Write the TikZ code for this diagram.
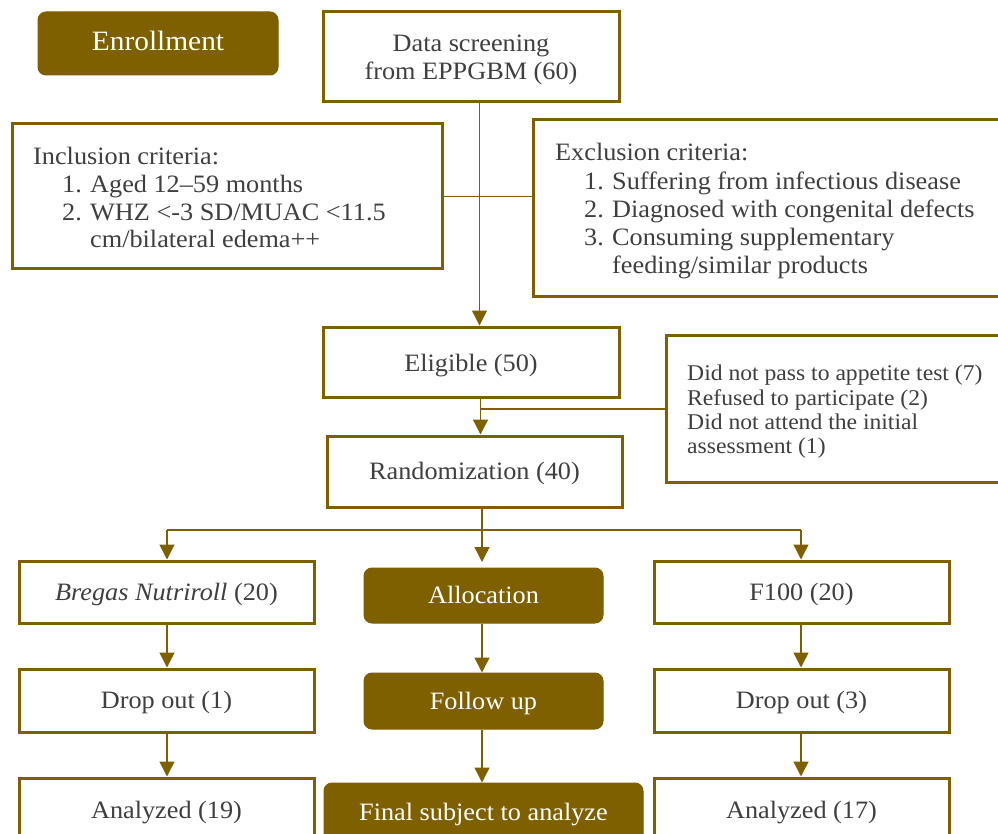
\documentclass[tikz,border=0pt]{standalone}
\usepackage{fontspec}
\setmainfont{Liberation Serif}[FakeStretch=1.05]
\usetikzlibrary{arrows.meta}
\definecolor{brn}{HTML}{7F6000}
\definecolor{txt}{HTML}{3F3F3F}
\begin{document}
\begin{tikzpicture}[x=1pt,y=-1pt,
 box/.style={draw=brn, line width=3pt, fill=white, inner sep=0pt, text=txt, font=\fontsize{25}{28}\selectfont, align=center, text height=22pt, text depth=5.5pt},
 dark/.style={fill=brn, draw=brn, line width=1pt, rounded corners=8pt, inner sep=0pt, text=white, font=\fontsize{25}{28}\selectfont, text height=22pt, text depth=5.5pt},
 conn/.style={draw=brn, line width=1.4pt},
 arr/.style={conn, -{Triangle[width=15pt,length=15pt]}},
 ln/.style={anchor=base west, inner sep=0pt, text=txt, font=\fontsize{25}{28}\selectfont},
 sln/.style={ln, font=\fontsize{22.5}{25}\selectfont},
]
\useasboundingbox (0,0) rectangle (998,834);
\clip (0,0) rectangle (998,834);
\fill[white] (0,0) rectangle (998,834);

% boxes
\node[dark, minimum width=240pt, minimum height=63pt, font=\fontsize{28}{32}\selectfont, text height=20pt, text depth=6pt] (enroll) at (158,43.5) {Enrollment};
\node[box, minimum width=296pt, minimum height=90pt, text height=, text depth=] (screen) at (471,57) {};
\node[anchor=center, inner sep=0pt, text=txt, font=\fontsize{25}{28}\selectfont, align=center] (screentxt) at (471,60) {Data screening\\from EPPGBM (60)};
\node[box, minimum width=430pt, minimum height=145pt, text height=, text depth=] (incl) at (227,196.5) {};
\node[box, minimum width=477pt, minimum height=176pt, text height=, text depth=] (excl) at (771.5,208) {};
\node[box, minimum width=296pt, minimum height=70pt, text height=25pt] (elig) at (471,362) {Eligible (50)};
\node[box, minimum width=295pt, minimum height=71pt] (rand) at (474.5,471.5) {Randomization (40)};
\node[box, minimum width=344pt, minimum height=147pt, text height=, text depth=] (drop) at (838,408.5) {};
\node[box, minimum width=295pt, minimum height=62pt] (bregas) at (166.5,592) {\textit{Bregas Nutriroll} (20)};
\node[dark, minimum width=239pt, minimum height=55pt] (alloc) at (483.5,595.5) {Allocation};
\node[box, minimum width=295pt, minimum height=62pt] (f100) at (801.5,592) {F100 (20)};
\node[box, minimum width=295pt, minimum height=63pt] (do1) at (166.5,700.5) {Drop out (1)};
\node[dark, minimum width=239pt, minimum height=56pt] (follow) at (483.5,701) {Follow up};
\node[box, minimum width=295pt, minimum height=63pt] (do3) at (801.5,700.5) {Drop out (3)};
\node[box, minimum width=295pt, minimum height=64pt] (an19) at (166.5,810) {Analyzed (19)};
\node[dark, minimum width=319pt, minimum height=59pt] (final) at (483.5,812.5) {Final subject to analyze};
\node[box, minimum width=295pt, minimum height=64pt] (an17) at (801.5,810) {Analyzed (17)};

% inclusion text
\node[ln] (i0) at (33,165) {Inclusion criteria:};
\node[ln] (i1) at (62,193) {\makebox[28pt][l]{1.}Aged 12–59 months};
\node[ln] (i2) at (62,221) {\makebox[28pt][l]{2.}WHZ <-3 SD/MUAC <11.5};
\node[ln] (i3) at (90,248) {cm/bilateral edema++};

% exclusion text
\node[ln] (e0) at (555,161) {Exclusion criteria:};
\node[ln] (e1) at (584,190) {\makebox[28pt][l]{1.}Suffering from infectious disease};
\node[ln] (e2) at (584,218) {\makebox[28pt][l]{2.}Diagnosed with congenital defects};
\node[ln] (e3) at (584,246) {\makebox[28pt][l]{3.}Consuming supplementary};
\node[ln] (e4) at (612,273) {feeding/similar products};

% drop-out text
\node[sln] (d0) at (687,380) {Did not pass to appetite test (7)};
\node[sln] (d1) at (687,405) {Refused to participate (2)};
\node[sln] (d2) at (687,429) {Did not attend the initial};
\node[sln] (d3) at (687,453) {assessment (1)};

% connectors
\coordinate (v1) at (479.5,102);
\draw[arr] (v1) -- (elig.north -| v1);
\draw[conn] (incl.east) -- (excl.west |- incl.east);
\coordinate (v2) at (480.5,397);
\coordinate (j2) at (480.5,409);
\draw[arr] (v2) -- (rand.north -| v2);
\draw[conn] (j2) -- (drop.west |- j2);
\coordinate (r) at (482,530);
\coordinate (rl) at (167,530);
\coordinate (rr) at (801,530);
\coordinate (ra) at (482,562);
\draw[conn] (rand.south -| r) -- (r);
\draw[conn] (rl) -- (rr);
\draw[arr] (rl) -- (bregas.north -| rl);
\draw[arr] (r) -- (ra);
\draw[arr] (rr) -- (f100.north -| rr);
\draw[arr] (bregas.south -| rl) -- (do1.north -| rl);
\draw[arr] (alloc.south -| r) -- (follow.north -| r);
\draw[arr] (f100.south -| rr) -- (do3.north -| rr);
\draw[arr] (do1.south -| rl) -- (an19.north -| rl);
\draw[arr] (follow.south -| r) -- (final.north -| r);
\draw[arr] (do3.south -| rr) -- (an17.north -| rr);
\end{tikzpicture}
\end{document}
